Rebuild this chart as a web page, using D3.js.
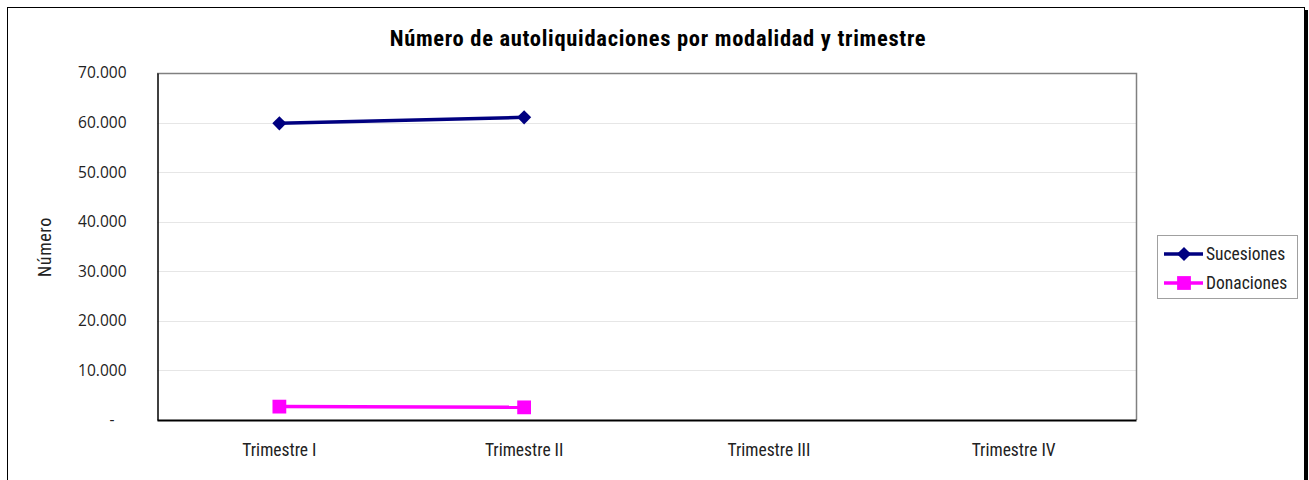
<!DOCTYPE html>
<html>
<head>
<meta charset="utf-8">
<script src="https://cdn.jsdelivr.net/npm/d3@7"></script>
<style>
	body { margin: 0; background: #fff; }
	svg { display: block; }
	.narrow { font-family: "Liberation Sans Narrow", "Arial Narrow", "Roboto Condensed", sans-serif; }
</style>
</head>
<body>
<svg id="chart" width="1309" height="480"></svg>
<script>
// data
var categories = ["Trimestre I", "Trimestre II", "Trimestre III", "Trimestre IV"];
var sucesiones = [59850, 61050, null, null];
var donaciones = [2700, 2550, null, null];
var yTicks = [0, 10000, 20000, 30000, 40000, 50000, 60000, 70000];

// diamond = square turned 45 degrees
var diamond = {
	draw: function(context, size) {
		var r = Math.sqrt(size / 2);
		context.moveTo(0, -r);
		context.lineTo(r, 0);
		context.lineTo(0, r);
		context.lineTo(-r, 0);
		context.closePath();
	}
};

var series = [
	{name: "Sucesiones", values: sucesiones, color: "#000080", symbol: diamond, size: 100},
	{name: "Donaciones", values: donaciones, color: "#ff00ff", symbol: d3.symbolSquare, size: 190}
];

var svg = d3.select("#chart");
var width = 1309, height = 480;
var margin = {top: 73, right: 173, bottom: 60, left: 157};

// outer frame with a little shadow on the right
svg.append("rect").attr("x", 1305).attr("y", 10).attr("width", 3).attr("height", 480).attr("fill", "#000");
svg.append("rect")
	.attr("x", 7.5).attr("y", 7.5)
	.attr("width", 1297).attr("height", 480)
	.attr("fill", "#fff").attr("stroke", "#000").attr("stroke-width", 1);

var x = d3.scaleBand()
	.domain(categories)
	.range([margin.left, width - margin.right]);

var y = d3.scaleLinear()
	.domain([0, 70000])
	.range([height - margin.bottom, margin.top]);

var loc = d3.formatLocale({decimal: ",", thousands: ".", grouping: [3], currency: ["", ""]});
var fmt = loc.format(",.0f");

// gridlines
svg.append("g")
	.selectAll("line")
	.data(yTicks.filter(function(d){ return d > 0 && d < 70000; }))
	.enter().append("line")
	.attr("x1", margin.left).attr("x2", width - margin.right)
	.attr("y1", function(d){ return Math.round(y(d)) + 0.5; })
	.attr("y2", function(d){ return Math.round(y(d)) + 0.5; })
	.attr("stroke", "#e6e6e6").attr("stroke-width", 1);

// plot border: gray top/right, black left/bottom
var pl = margin.left, pr = width - margin.right, pt = margin.top, pb = height - margin.bottom;
svg.append("path")
	.attr("d", "M" + pl + "," + (pt + 0.5) + "H" + (pr + 0.5) + "V" + pb)
	.attr("fill", "none").attr("stroke", "#808080").attr("stroke-width", 1.5);

// y axis
var yAxis = d3.axisLeft(y)
	.tickValues(yTicks)
	.tickSize(0)
	.tickPadding(31)
	.tickFormat(function(d){ return d === 0 ? "-" : fmt(d); });
var ya = svg.append("g")
	.attr("transform", "translate(" + (pl + 0.5) + ",0)")
	.call(yAxis);
ya.select(".domain").attr("stroke", "#000").attr("stroke-width", 1.5);
ya.selectAll("text")
	.attr("font-family", "'Open Sans', sans-serif")
	.attr("font-size", 15.5)
	.attr("fill", "#222");
ya.selectAll(".tick").filter(function(d){ return d === 0; }).select("text")
	.attr("dx", -12);

// x axis
var xAxis = d3.axisBottom(x).tickSize(0).tickPadding(24);
var xa = svg.append("g")
	.attr("transform", "translate(0," + pb + ")")
	.call(xAxis);
xa.select(".domain").attr("stroke", "#000").attr("stroke-width", 2);
xa.selectAll("text")
	.attr("class", "narrow")
	.attr("font-size", 17.5)
	.attr("fill", "#222");

// y title
svg.append("text")
	.attr("class", "narrow")
	.attr("transform", "translate(51," + 247 + ") rotate(-90)")
	.attr("text-anchor", "middle")
	.attr("font-size", 18)
	.attr("letter-spacing", 0.6)
	.attr("fill", "#222")
	.text("Número");

// title
svg.append("text")
	.attr("class", "narrow")
	.attr("x", 658).attr("y", 46)
	.attr("text-anchor", "middle")
	.attr("font-size", 22.5)
	.attr("letter-spacing", 0.7)
	.attr("font-weight", "bold")
	.attr("fill", "#000")
	.text("Número de autoliquidaciones por modalidad y trimestre");

// lines and markers
var line = d3.line()
	.defined(function(d){ return d != null; })
	.x(function(d, i){ return x(categories[i]) + x.bandwidth() / 2; })
	.y(function(d){ return y(d); });

series.forEach(function(s){
	svg.append("path")
		.datum(s.values)
		.attr("d", line)
		.attr("fill", "none")
		.attr("stroke", s.color)
		.attr("stroke-width", 3.5);

	svg.append("g").selectAll("path")
		.data(s.values.map(function(v, i){ return {v: v, c: categories[i]}; }).filter(function(d){ return d.v != null; }))
		.enter().append("path")
		.attr("transform", function(d){ return "translate(" + (x(d.c) + x.bandwidth() / 2) + "," + y(d.v) + ")"; })
		.attr("d", d3.symbol().type(s.symbol).size(s.size))
		.attr("fill", s.color);
});

// legend
var lg = svg.append("g").attr("transform", "translate(1157,235)");
lg.append("rect")
	.attr("x", 0.5).attr("y", 0.5)
	.attr("width", 140).attr("height", 63)
	.attr("fill", "#fff").attr("stroke", "#a0a0a0");
series.forEach(function(s, i){
	var yy = 19 + i * 29;
	lg.append("line")
		.attr("x1", 7).attr("x2", 46)
		.attr("y1", yy).attr("y2", yy)
		.attr("stroke", s.color).attr("stroke-width", 3.5);
	lg.append("path")
		.attr("transform", "translate(27," + yy + ")")
		.attr("d", d3.symbol().type(s.symbol).size(s.size))
		.attr("fill", s.color);
	lg.append("text")
		.attr("class", "narrow")
		.attr("x", 49).attr("y", yy + 6)
		.attr("font-size", 17.5)
		.attr("fill", "#222")
		.text(s.name);
});
</script>
</body>
</html>
